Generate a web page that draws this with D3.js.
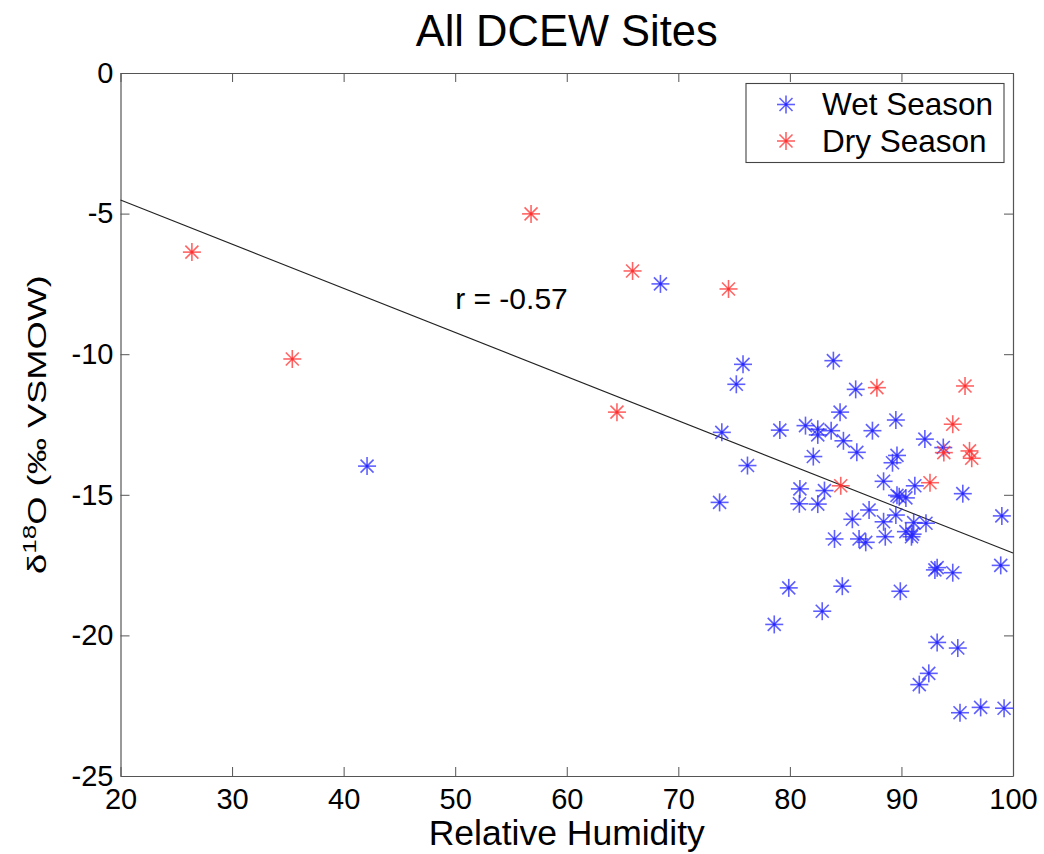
<!DOCTYPE html>
<html>
<head>
<meta charset="utf-8">
<script src="https://cdn.jsdelivr.net/npm/d3@7"></script>
<style>
  body { margin: 0; background: #fff; }
  text { font-family: "Liberation Sans", Arial, sans-serif; fill: #000; }
</style>
</head>
<body>
<div id="chart"></div>
<script>
// wet season samples: relative humidity and d18O
var wetRH = [68.4, 42.1, 75.8, 75.2, 83.9, 85.9, 84.5, 89.5, 73.9, 79.1, 81.4, 82.5, 82.5, 83.7,
  84.8, 87.4, 86.0, 82.1, 92.1, 93.75, 89.6, 89.2, 76.2, 73.7, 80.9, 83.1, 80.85, 82.5, 88.4, 91.2,
  89.8, 90.4, 89.6, 95.5, 99.0, 87.1, 89.5, 85.6, 88.4, 91.1, 92.2, 90.4, 91.0, 90.9, 88.55, 84.0,
  86.2, 86.8, 93.2, 93.0, 94.6, 98.9, 79.9, 84.7, 89.9, 82.9, 78.6, 93.2, 95.05, 92.45, 91.6,
  95.25, 97.1, 99.2];
var wetD18O = [-7.50, -13.98, -10.36, -11.07, -10.23, -11.25, -12.06, -12.34, -12.78, -12.70, -12.54,
  -12.67, -12.87, -12.72, -13.08, -12.72, -13.49, -13.64, -13.02, -13.32, -13.60, -13.86, -13.96,
  -15.27, -14.79, -14.85, -15.32, -15.33, -14.52, -14.68, -15.07, -15.11, -15.02, -14.96, -15.75,
  -15.54, -15.72, -15.87, -15.96, -15.99, -16.01, -16.31, -16.40, -16.49, -16.49, -16.57, -16.57,
  -16.69, -17.59, -17.67, -17.77, -17.51, -18.31, -18.25, -18.43, -19.14, -19.61, -20.25, -20.45,
  -21.35, -21.75, -22.75, -22.56, -22.59];

// dry season samples
var dryRH = [26.4, 35.4, 56.8, 65.9, 74.5, 64.5, 87.8, 95.7, 94.6, 93.8, 96.1, 96.3, 84.56, 92.56];
var dryD18O = [-6.37, -10.17, -5.01, -7.04, -7.68, -12.06, -11.19, -11.13, -12.49, -13.50, -13.44,
  -13.70, -14.68, -14.57];

// least squares fit shown on the figure
var fitSlope = -0.1569;
var fitIntercept = -1.382;
var fitLabel = "r = -0.57";

var xTicks = [20, 30, 40, 50, 60, 70, 80, 90, 100];
var yTicks = [0, -5, -10, -15, -20, -25];

var width = 1044, height = 854;
var plotL = 120.5, plotR = 1013, plotT = 73, plotB = 776;

var svg = d3.select("#chart").append("svg")
    .attr("width", width)
    .attr("height", height);

var x = d3.scaleLinear().domain([20, 100]).range([plotL, plotR]);
var y = d3.scaleLinear().domain([-25, 0]).range([plotB, plotT]);

var axisColor = "#555";
// plain hyphen minus like matlab, not the unicode minus
var plain = function(d) { return String(d); };

function styleAxis(g) {
  g.select(".domain").attr("stroke", axisColor).attr("stroke-width", 1.2);
  g.selectAll(".tick line").attr("stroke", axisColor).attr("stroke-width", 1);
  g.selectAll(".tick text").style("font-size", "29px").attr("fill", "#000")
    .style("font-family", "'Liberation Sans', Arial, sans-serif");
}

svg.append("g")
    .attr("transform", "translate(0," + plotB + ")")
    .call(d3.axisBottom(x).tickValues(xTicks).tickFormat(plain).tickSizeInner(-9).tickSizeOuter(0).tickPadding(12))
    .call(styleAxis);

svg.append("g")
    .attr("transform", "translate(0," + plotT + ")")
    .call(d3.axisTop(x).tickValues(xTicks).tickSizeInner(-9).tickSizeOuter(0).tickFormat(""))
    .call(styleAxis);

svg.append("g")
    .attr("transform", "translate(" + plotL + ",0)")
    .call(d3.axisLeft(y).tickValues(yTicks).tickFormat(plain).tickSizeInner(-9).tickSizeOuter(0).tickPadding(7))
    .call(styleAxis);

svg.append("g")
    .attr("transform", "translate(" + plotR + ",0)")
    .call(d3.axisRight(y).tickValues(yTicks).tickSizeInner(-9).tickSizeOuter(0).tickFormat(""))
    .call(styleAxis);

// regression line
svg.append("line")
    .attr("x1", x(20)).attr("y1", y(fitIntercept + fitSlope * 20))
    .attr("x2", x(100)).attr("y2", y(fitIntercept + fitSlope * 100))
    .attr("stroke", "#222").attr("stroke-width", 1.1);

svg.append("text")
    .attr("x", x(50)).attr("y", y(-8.4))
    .style("font-size", "30px")
    .text(fitLabel);

// asterisk marker like matlab '*'
function star(g, r, d) {
  g.append("line").attr("x1", -r).attr("x2", r).attr("y1", 0).attr("y2", 0);
  g.append("line").attr("x1", 0).attr("x2", 0).attr("y1", -r).attr("y2", r);
  g.append("line").attr("x1", -d).attr("x2", d).attr("y1", -d).attr("y2", d);
  g.append("line").attr("x1", -d).attr("x2", d).attr("y1", d).attr("y2", -d);
  g.append("circle").attr("r", 1.3).attr("stroke", "none");
}

function plotSeries(rh, d18, color) {
  rh.forEach(function(v, i) {
    var g = svg.append("g")
        .attr("transform", "translate(" + x(v) + "," + y(d18[i]) + ")")
        .attr("stroke", color).attr("fill", color)
        .attr("stroke-width", 1.6).attr("stroke-opacity", 0.75);
    star(g, 9, 6.5);
  });
}

plotSeries(wetRH, wetD18O, "#2a2aff");
plotSeries(dryRH, dryD18O, "#ff3030");

// title
svg.append("text")
    .attr("x", (plotL + plotR) / 2).attr("y", 46)
    .attr("text-anchor", "middle")
    .style("font-size", "43.5px")
    .text("All DCEW Sites");

// x label
svg.append("text")
    .attr("x", (plotL + plotR) / 2).attr("y", 845)
    .attr("text-anchor", "middle")
    .style("font-size", "35.5px")
    .text("Relative Humidity");

// y label, stretched along its length like the original
var yl = svg.append("text")
    .attr("transform", "translate(46," + ((plotT + plotB) / 2) + ") rotate(-90) scale(1.45,1)")
    .attr("text-anchor", "middle")
    .style("font-size", "25px");
yl.append("tspan").text("\u03b4");
yl.append("tspan").attr("dy", -10).style("font-size", "18px").text("18");
yl.append("tspan").attr("dy", 10).text("O (\u2030 VSMOW)");

// legend
var legend = svg.append("g");
legend.append("rect")
    .attr("x", 746).attr("y", 83.5).attr("width", 258).attr("height", 79)
    .attr("fill", "#fff").attr("stroke", "#444").attr("stroke-width", 1.1);

[["Wet Season", "#2a2aff", 104.5, 115], ["Dry Season", "#ff3030", 141, 152]].forEach(function(e) {
  var g = legend.append("g")
      .attr("transform", "translate(786," + e[2] + ")")
      .attr("stroke", e[1]).attr("fill", e[1])
      .attr("stroke-width", 1.6).attr("stroke-opacity", 0.75);
  star(g, 9, 6.5);
  legend.append("text").attr("x", 822).attr("y", e[3])
      .style("font-size", "31.5px").text(e[0]);
});
</script>
</body>
</html>
